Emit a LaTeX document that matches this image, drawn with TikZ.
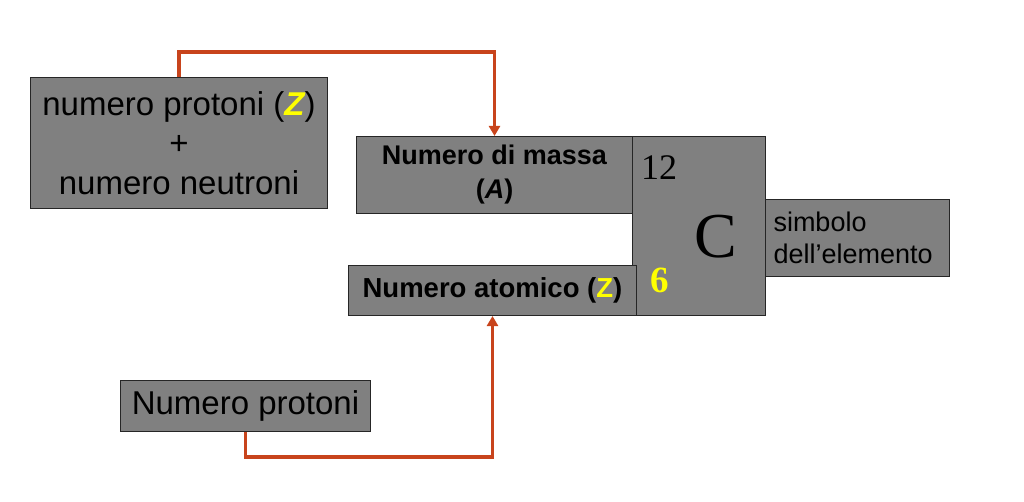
\documentclass[tikz,border=0pt]{standalone}
\usepackage{fontspec}
\setmainfont{Liberation Sans}
\newfontfamily\timesf{Liberation Serif}
\usetikzlibrary{arrows.meta}
\definecolor{boxgray}{HTML}{808080}
\definecolor{arrowred}{HTML}{C8441C}
\definecolor{zyellow}{HTML}{FFFF00}
\tikzset{
  gbox/.style={draw=black!85, line width=1pt, fill=boxgray, anchor=north west, inner sep=0pt, text=black},
  conn/.style={draw=arrowred, line width=3.3pt, -{Triangle[length=10pt,width=11pt]}},
}
\begin{document}
\begin{tikzpicture}[x=1pt,y=-1pt]
\useasboundingbox (0,0) rectangle (1024,502);
% boxes
\node[gbox, minimum width=297pt, minimum height=131pt, align=center,
      font=\fontsize{33}{39.5}\selectfont] (b1) at (30,77)
  {numero protoni ({\bfseries\itshape\color{zyellow}Z})\\+\\numero neutroni};
\node[gbox, minimum width=276pt, minimum height=77pt, align=center,
      font=\fontsize{27}{34}\selectfont\bfseries] (b2) at (356,136)
  {\rule{0pt}{3pt}Numero di massa\\({\itshape A})};
\node[gbox, minimum width=133pt, minimum height=179pt] (cb) at (632,136) {};
\node[gbox, minimum width=288pt, minimum height=50pt,
      font=\fontsize{27.5}{33}\selectfont\bfseries] (atom) at (348,265)
  {Numero atomico ({\color{zyellow}Z})};
\node[gbox, minimum width=184pt, minimum height=77pt, text width=168pt, align=left,
      inner xsep=8pt, font=\fontsize{27}{32}\selectfont] (sym) at (765,199)
  {simbolo\\dell’elemento};
\node[gbox, minimum width=250pt, minimum height=51pt,
      font=\fontsize{33}{39}\selectfont] (np) at (120,380) {Numero protoni};
% element symbol texts
\node[anchor=base west, inner sep=0pt, font=\timesf\fontsize{36}{36}\selectfont] (mass) at (641,180) {12};
\node[anchor=base west, inner sep=0pt, font=\timesf\fontsize{64}{64}\selectfont] (sym C) at (694,258) {C};
\node[anchor=base west, inner sep=0pt, text=zyellow, font=\timesf\bfseries\fontsize{37}{37}\selectfont] (zn) at (650,292) {6};
% connectors
\draw[conn] (b1.north) -- ++(0,-25) -| (b2.north);
\draw[conn] (np.south) -- ++(0,25) -| (atom.south);
\end{tikzpicture}
\end{document}
